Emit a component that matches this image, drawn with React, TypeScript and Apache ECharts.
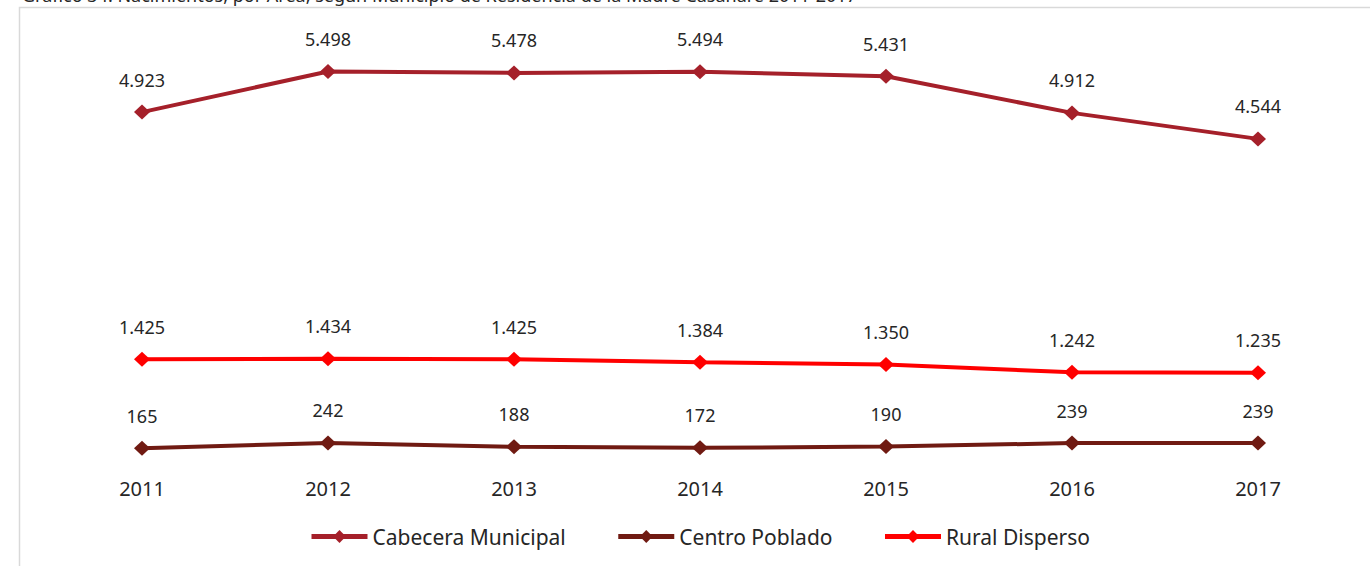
import React, { useEffect, useRef } from "react";
import * as echarts from "echarts";

const years = ["2011", "2012", "2013", "2014", "2015", "2016", "2017"];
const cabecera = [4923, 5498, 5478, 5494, 5431, 4912, 4544];
const centro = [165, 242, 188, 172, 190, 239, 239];
const rural = [1425, 1434, 1425, 1384, 1350, 1242, 1235];

const FONT = "'Noto Sans', sans-serif";
const fmt = (v: number) => String(v).replace(/\B(?=(\d{3})+(?!\d))/g, ".");

export default function App() {
  const ref = useRef<HTMLDivElement>(null);
  useEffect(() => {
    const chart = echarts.init(ref.current!, null, { renderer: "svg" });
    const mk = (name: string, data: number[], color: string) => ({
      name,
      type: "line",
      data,
      symbol: "diamond",
      symbolSize: [16, 15],
      lineStyle: { color, width: 4 },
      itemStyle: { color },
      label: {
        show: true,
        position: "top",
        distance: 16,
        color: "#262626",
        fontFamily: FONT,
        fontSize: 18,
        formatter: (p: any) => fmt(p.value),
      },
    });
    chart.setOption({
      animation: false,
      graphic: [
        {
          type: "text",
          left: 22,
          top: -14,
          style: {
            text: "Gráfico 34. Nacimientos, por Área, según Municipio de Residencia de la Madre Casanare 2011-2017",
            fontFamily: FONT,
            fontSize: 18,
            fill: "#262626",
          },
        },
        {
          type: "rect",
          shape: { x: 19.5, y: 7.5, width: 1400, height: 620 },
          style: { fill: "none", stroke: "#d9d9d9", lineWidth: 1.5 },
        },
      ],
      grid: { left: 49, width: 1302, top: 36, height: 424 },
      legend: {
        bottom: 14,
        left: 304,
        itemWidth: 56,
        itemHeight: 16,
        itemGap: 50,
        lineStyle: { width: 5 },
        textStyle: { fontFamily: FONT, fontSize: 21, color: "#262626" },
        data: ["Cabecera Municipal", "Centro Poblado", "Rural Disperso"],
      },
      xAxis: {
        type: "category",
        data: years,
        boundaryGap: true,
        axisLine: { show: false },
        axisTick: { show: false },
        axisLabel: { fontFamily: FONT, fontSize: 20, color: "#262626", margin: 18 },
      },
      yAxis: {
        type: "value",
        min: 0,
        max: 6000,
        show: false,
        splitLine: { show: false },
      },
      series: [
        mk("Cabecera Municipal", cabecera, "#a5202a"),
        mk("Centro Poblado", centro, "#701a12"),
        mk("Rural Disperso", rural, "#ff0000"),
      ],
    });
    return () => chart.dispose();
  }, []);
  return (
    <div
      ref={ref}
      style={{ position: "absolute", left: 0, top: 0, width: 1370, height: 566, background: "#fff" }}
    />
  );
}
